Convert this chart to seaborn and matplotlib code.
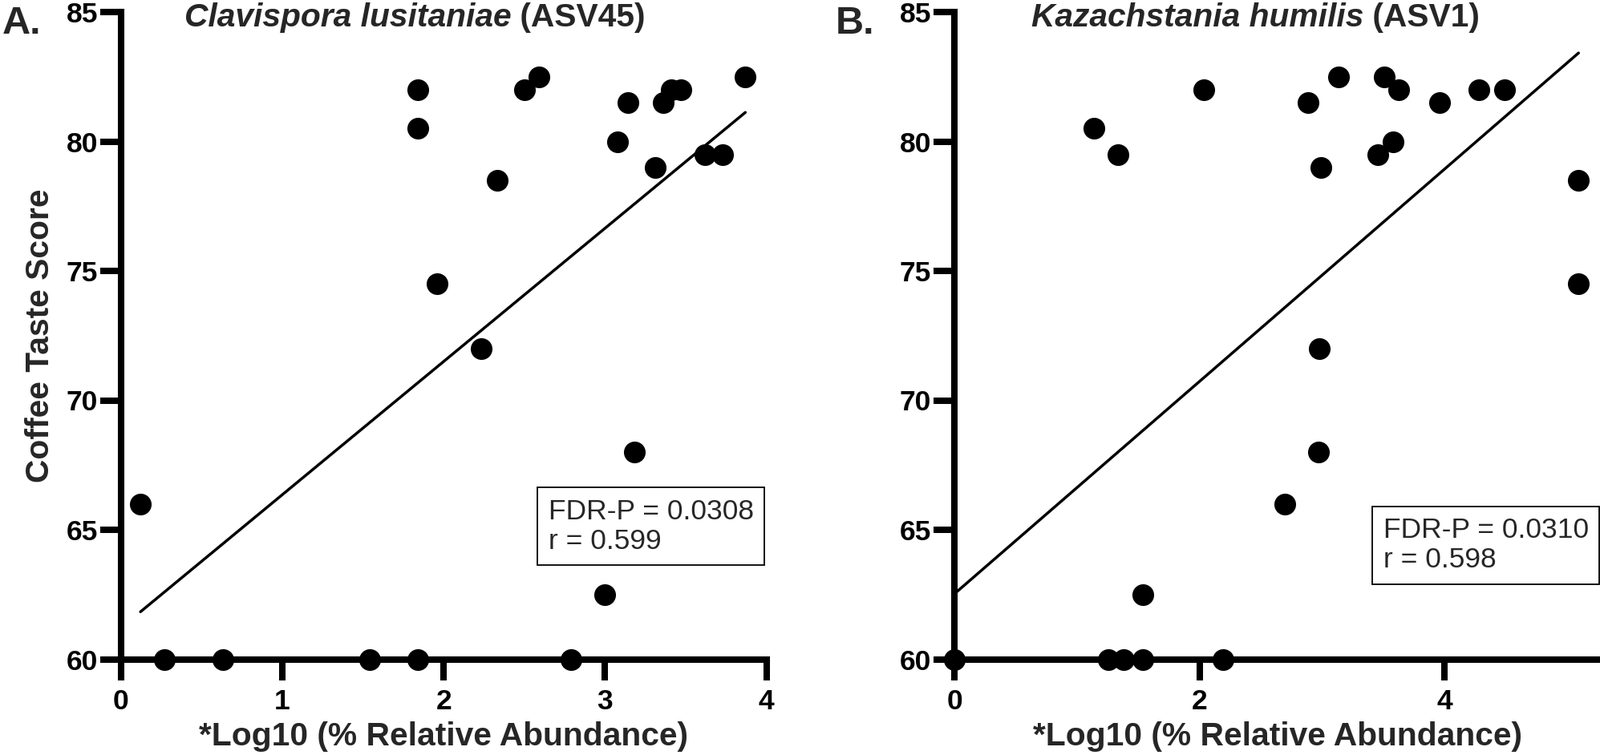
import matplotlib
matplotlib.use("Agg")
import matplotlib.pyplot as plt
import seaborn as sns
import numpy as np

# ---------------- data ----------------
# Panel A: Clavispora lusitaniae (ASV45)
xA = [0.12, 0.27, 0.63, 1.54, 1.84, 2.79, 1.84, 1.84, 1.96, 2.23, 2.33, 2.50,
      2.59, 3.08, 3.14, 3.18, 3.00, 3.31, 3.36, 3.41, 3.47, 3.62, 3.73, 3.87]
yA = [66, 60, 60, 60, 60, 60, 82, 80.5, 74.5, 72, 78.5, 82,
      82.5, 80, 81.5, 68, 62.5, 79, 81.5, 82, 82, 79.5, 79.5, 82.5]

# Panel B: Kazachstania humilis (ASV1)
xB = [0.0, 1.254, 1.383, 1.538, 2.19, 1.538, 1.14, 1.333, 2.035, 2.696, 2.97, 2.976,
      2.99, 2.884, 3.135, 3.457, 3.507, 3.582, 3.628, 3.958, 4.28, 4.493, 5.095, 5.095]
yB = [60, 60, 60, 60, 60, 62.5, 80.5, 79.5, 82, 66, 68, 72,
      79, 81.5, 82.5, 79.5, 82.5, 80, 82, 81.5, 82, 82, 78.5, 74.5]

xticksA = [0, 1, 2, 3, 4]
xticksB = [0, 2, 4]
yticks = [60, 65, 70, 75, 80, 85]

species = ["Clavispora lusitaniae", "Kazachstania humilis"]
asv = [" (ASV45)", " (ASV1)"]
panel_labels = ["A.", "B."]
stats = ["FDR-P = 0.0308\nr = 0.599", "FDR-P = 0.0310\nr = 0.598"]
xlabel = "*Log10 (% Relative Abundance)"
ylabel = "Coffee Taste Score"

# ---------------- style ----------------
sns.set_theme(style="ticks")
plt.rcParams["font.family"] = ["Liberation Sans", "DejaVu Sans"]

W, H = 1995, 942
fig = plt.figure(figsize=(W / 100, H / 100), dpi=100)

axA = fig.add_axes([151 / W, 1 - 822.5 / H, 804.5 / W, 807.5 / H])
axB = fig.add_axes([1190 / W, 1 - 822.5 / H, 805 / W, 807.5 / H])

SPINE_W = 5.8
TICK_FS = 25.5
LABEL_FS = 29.3

configs = [
    (axA, xA, yA, xticksA, (0, 4), 0.098, (0.662, 0.162)),
    (axB, xB, yB, xticksB, (0, 5.27), 0.119, (0.664, 0.133)),
]

for i, (ax, xs, ys, xt, xl, title_x, box_pos) in enumerate(configs):
    sns.regplot(x=np.array(xs), y=np.array(ys), ax=ax, ci=None, truncate=True,
                scatter_kws=dict(s=380, color="black", clip_on=False, zorder=5,
                                 linewidths=0, alpha=1),
                line_kws=dict(color="black", lw=2.5, zorder=4))
    ax.set_xlim(*xl)
    ax.set_ylim(60, 85)
    ax.set_xticks(xt)
    ax.set_yticks(yticks)
    ax.set_xticklabels([str(t) for t in xt], fontweight="bold")
    ax.set_yticklabels([str(t) for t in yticks], fontweight="bold")
    for s in ["top", "right"]:
        ax.spines[s].set_visible(False)
    for s in ["left", "bottom"]:
        ax.spines[s].set_linewidth(SPINE_W)
        ax.spines[s].set_color("black")
        ax.spines[s].set_zorder(3)
        ax.spines[s].set_capstyle("projecting")
    ax.tick_params(axis="both", width=SPINE_W, length=19, labelsize=TICK_FS,
                   color="black", labelcolor="black")
    ax.tick_params(axis="y", pad=1.7)
    ax.tick_params(axis="x", pad=7)
    ax.set_xlabel(xlabel, fontsize=LABEL_FS, fontweight="bold", labelpad=6)
    if i == 0:
        ax.set_ylabel(ylabel, fontsize=LABEL_FS, fontweight="bold", labelpad=10)
    else:
        ax.set_ylabel("")
    ax.patch.set_alpha(0)

    # title: italic species name + bold ASV id
    t1 = ax.text(title_x, 0.978, species[i], transform=ax.transAxes,
                 fontsize=LABEL_FS, fontweight="bold", fontstyle="italic",
                 ha="left", va="baseline")
    ax.annotate(asv[i], xy=(1, 0), xycoords=t1, fontsize=LABEL_FS,
                fontweight="bold", ha="left", va="bottom")

    # stats box
    ax.text(box_pos[0], box_pos[1], stats[i], transform=ax.transAxes,
            fontsize=25.5, ha="left", va="bottom", linespacing=1.15,
            bbox=dict(boxstyle="square,pad=0.38", fc="white", ec="black", lw=1.3),
            zorder=6)

fig.text(3 / W, 1 - 42 / H, panel_labels[0], fontsize=35, fontweight="bold",
         ha="left", va="baseline")
fig.text(1042 / W, 1 - 42 / H, panel_labels[1], fontsize=35, fontweight="bold",
         ha="left", va="baseline")

fig.savefig("out.png", dpi=100, facecolor="white")
